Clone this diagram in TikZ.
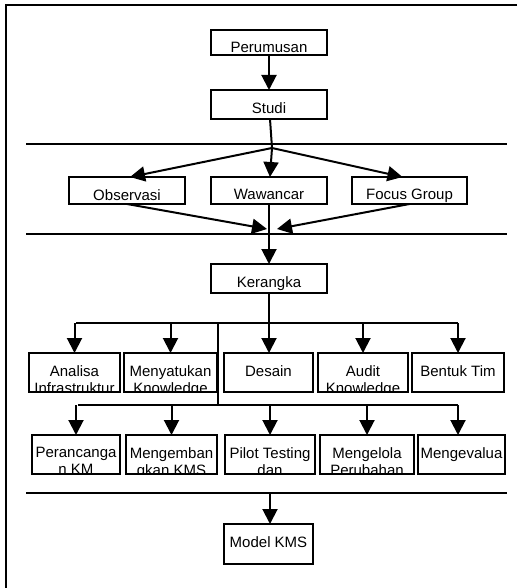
\documentclass[tikz,border=0pt]{standalone}
\usepackage{fontspec}
\setmainfont{Liberation Sans}
\usetikzlibrary{arrows.meta}
\tikzset{
  boxst/.style={draw, line width=2pt, rectangle, inner sep=0pt, outer sep=0pt},
  txt/.style={align=center, inner sep=0pt, outer sep=0pt, font=\fontsize{15}{17}\selectfont},
  conn/.style={line width=2pt},
  arr/.style={conn, -{Triangle[length=15pt,width=15pt]}},
  sepline/.style={line width=1.5pt},
  frameline/.style={line width=2pt}
}
\newcommand\cbox[6]{%
  \node[boxst, minimum width={(#4-#2-2)*1pt}, minimum height={(#5-#3-2)*1pt}]
    (#1) at ({(#2+#4)/2},{(#3+#5)/2}) {};
  \begin{scope}
    \clip ([xshift=1pt,yshift=1pt]#1.south west) rectangle ([xshift=-1pt,yshift=-1pt]#1.north east);
    \node[txt, anchor=north] (#1t) at ([yshift=-12.5pt]#1.north) {#6};
  \end{scope}
}
\begin{document}
\begin{tikzpicture}[x=1pt,y=-1pt]
\useasboundingbox (0,0) rectangle (517,588);
% frame
\coordinate (fr1) at (517,5);
\coordinate (fr2) at (6,5);
\coordinate (fr3) at (6,588);
\draw[frameline] (fr1) -- (fr2) -- (fr3);
% separators
\coordinate (s1l) at (26,144); \coordinate (s1r) at (507,144);
\coordinate (s2l) at (26,234); \coordinate (s2r) at (507,234);
\coordinate (s3l) at (26,493); \coordinate (s3r) at (507,493);
\draw[sepline] (s1l) -- (s1r);
\draw[sepline] (s2l) -- (s2r);
\draw[sepline] (s3l) -- (s3r);
% boxes
\cbox{per}{210}{29}{328}{56}{Perumusan}
\cbox{stu}{210}{89}{328}{120}{Studi}
\cbox{obs}{68}{176}{186}{205}{Observasi}
\cbox{waw}{210}{176}{328}{205}{Wawancar}
\cbox{foc}{351}{176}{468}{205}{Focus Group}
\cbox{ker}{210}{263}{328}{294}{Kerangka}
\cbox{ana}{28}{352}{121}{393}{Analisa\\Infrastruktur}
\cbox{men}{123}{352}{218}{393}{Menyatukan\\Knowledge}
\cbox{des}{223}{352}{314}{393}{Desain}
\cbox{aud}{317}{352}{409}{393}{Audit\\Knowledge}
\cbox{ben}{411}{352}{505}{393}{Bentuk Tim}
\cbox{pra}{31}{434}{121}{475}{Perancanga\\n KM}
\cbox{mgb}{125}{434}{218}{475}{Mengemban\\gkan KMS}
\cbox{pil}{224}{434}{316}{475}{Pilot Testing\\dan}
\cbox{mgl}{319}{434}{415}{475}{Mengelola\\Perubahan}
\cbox{mev}{417}{434}{506}{475}{Mengevalua}
\cbox{mod}{223}{523}{314}{565}{Model KMS}
% connectors
\draw[arr] (per) -- (stu);
\coordinate (hub1) at (272,148);
\draw[conn] (stu) -- (hub1);
\draw[arr] (hub1) -- ([xshift=3pt]obs.north);
\draw[arr] (hub1) -- (waw);
\draw[arr] (hub1) -- ([xshift=-7pt]foc.north);
\coordinate (hub2l) at (267,229);
\coordinate (hub2r) at (277,229);
\draw[arr] (obs.south) -- (hub2l);
\draw[arr] (foc.south) -- (hub2r);
\draw[arr] (waw) -- (ker);
\coordinate (b1l) at (76,323);
\coordinate (b1r) at (458,323);
\coordinate (b1m) at (218,323);
\draw[conn] (ker) -- (ker |- b1l);
\draw[conn] (b1l) -- (b1r);
\draw[arr] (ana.north |- b1l) -- (ana.north);
\draw[arr] (men.north |- b1l) -- (men.north);
\draw[arr] (ker |- b1l) -- (des.north -| ker);
\draw[arr] (aud.north |- b1l) -- (aud.north);
\draw[arr] (ben.north |- b1l) -- (ben.north);
\coordinate (b2l) at (78,405);
\coordinate (b2r) at (458,405);
\coordinate (b2m) at (218,405);
\draw[conn] (b1m) -- (b2m);
\draw[conn] (b2l) -- (b2r);
\draw[arr] (pra.north |- b2l) -- (pra.north);
\draw[arr] (mgb.north |- b2l) -- (mgb.north);
\draw[arr] (pil.north |- b2l) -- (pil.north);
\draw[arr] (mgl.north |- b2l) -- (mgl.north);
\draw[arr] (b2r) -- (b2r |- mev.north);
\coordinate (s3m) at (270,493);
\draw[arr] (s3m) -- (s3m |- mod.north);
\end{tikzpicture}
\end{document}
